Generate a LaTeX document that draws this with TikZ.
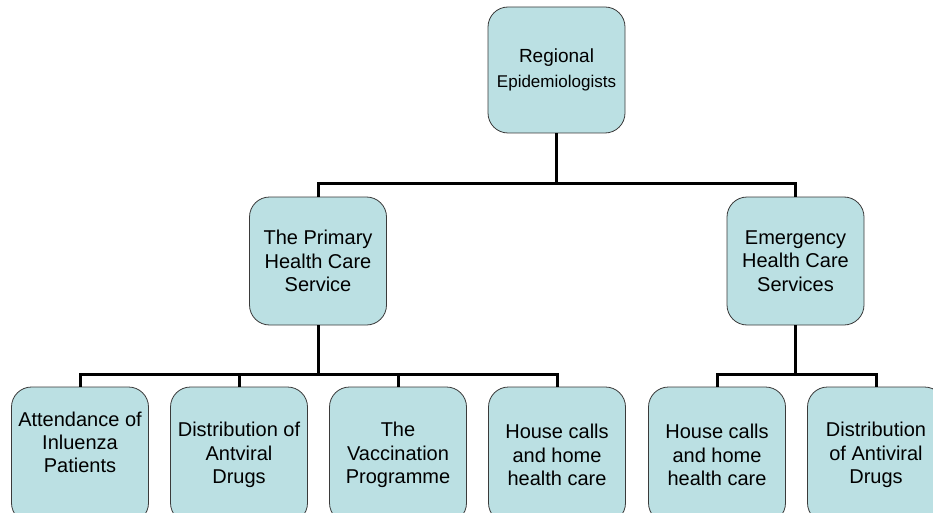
\documentclass[tikz,border=0pt]{standalone}
\usepackage{fontspec}
\setmainfont{Liberation Sans}
\definecolor{boxfill}{HTML}{BBE0E3}
\definecolor{boxline}{HTML}{3A3A3A}
\begin{document}
\begin{tikzpicture}[x=1pt,y=-1pt,
  box/.style={draw=boxline, fill=boxfill, line width=0.8pt, rounded corners=20pt,
    minimum width=137pt, minimum height=128pt, inner sep=0pt, align=center,
    font=\fontsize{20}{23.3}\selectfont},
  lowbox/.style={box, minimum height=136pt},
  conn/.style={draw=black, line width=3pt}]
\useasboundingbox (0,0) rectangle (933,513);
% nodes
\node[box, minimum height=126pt] (top) at (556.5,70) {{\fontsize{19}{25}\selectfont Regional}\\[2pt]{\fontsize{17}{20}\selectfont Epidemiologists}};
\node[box] (prim) at (318,261) {The Primary\\Health Care\\Service};
\node[box] (emer) at (795.5,261) {Emergency\\Health Care\\Services};
\node[lowbox] (a1) at (80,455) {\raisebox{10pt}[\height][\depth]{\begin{tabular}{@{}c@{}}Attendance of\\Inluenza\\Patients\end{tabular}}};
\node[lowbox] (a2) at (239,455) {Distribution of\\Antviral\\Drugs};
\node[lowbox] (a3) at (398,455) {The\\Vaccination\\Programme};
\node[lowbox] (a4) at (557,455) {House calls\\and home\\health care};
\node[lowbox] (e1) at (717,455) {House calls\\and home\\health care};
\node[lowbox] (e2) at (876,455) {Distribution\\of Antiviral\\Drugs};
% connectors
\draw[conn] (top.south) -- ++(0,50) coordinate (j1);
\draw[conn] (prim.north) |- (j1) -| (emer.north);
\draw[conn] (prim.south) -- ++(0,49) coordinate (j2);
\draw[conn] (a1.north) |- (j2) -| (a4.north);
\draw[conn] (a2.north) -- (a2.north |- j2);
\draw[conn] (a3.north) -- (a3.north |- j2);
\draw[conn] (emer.south) -- ++(0,49) coordinate (j3);
\draw[conn] (e1.north) |- (j3) -| (e2.north);
\end{tikzpicture}
\end{document}
